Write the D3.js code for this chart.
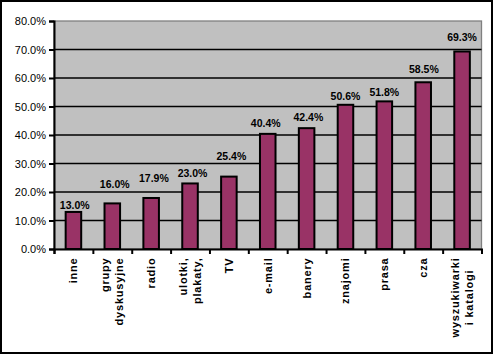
<!DOCTYPE html>
<html><head><meta charset="utf-8">
<script src="https://cdn.jsdelivr.net/npm/d3@7"></script>
<style>body{margin:0;background:#fff}svg{display:block}</style>
</head><body>
<svg id="c" width="494" height="355"></svg>
<script>
const categories = [["inne"],["grupy","dyskusyjne"],["radio"],["ulotki,","plakaty,"],["TV"],["e-mail"],["banery"],["znajomi"],["prasa"],["cza"],["wyszukiwarki","i katalogi"]];
const values = [13.0,16.0,17.9,23.0,25.4,40.4,42.4,50.6,51.8,58.5,69.3];
const yTicks = [0,10,20,30,40,50,60,70,80];

// layout tweaks (hand-placed label positions in the original)
const labelGap = [3,15,16,6,17,7,7,5,5,9,10];
const labelDx = [1.3,2.4,2.7,2.5,2.5,-2,1.8,0,0,0.7,0];
const labelAlign = ["end","end","end","end","end","end","end","end","end","end","middle"];

const svg = d3.select("#c");
const L = 54, R = 481.5, T = 21, B = 249;
svg.append("rect").attr("x",1).attr("y",1).attr("width",491).attr("height",352)
  .attr("fill","#fff").attr("stroke","#000").attr("stroke-width",2);

const x = d3.scaleBand().domain(d3.range(values.length)).range([L,R]).padding(0);
const y = d3.scaleLinear().domain([0,80]).range([B,T]);

svg.append("rect").attr("x",L).attr("y",T).attr("width",R-L).attr("height",B-T)
  .attr("fill","#c0c0c0").attr("stroke","#808080").attr("stroke-width",1.3);

// gridlines
svg.append("g").selectAll("line").data(yTicks.filter(d=>d>0 && d<80)).join("line")
  .attr("x1",L).attr("x2",R).attr("y1",d=>y(d)).attr("y2",d=>y(d))
  .attr("stroke","#000").attr("stroke-width",1.4);

// bars
const bw = x.step()*0.4;
svg.append("g").selectAll("rect").data(values).join("rect")
  .attr("x",(d,i)=>x(i)+x.step()/2-bw/2).attr("width",bw)
  .attr("y",d=>y(d)).attr("height",d=>B-y(d))
  .attr("fill","#993366").attr("stroke","#000").attr("stroke-width",2);

// value labels
svg.append("g").selectAll("text").data(values).join("text")
  .attr("x",(d,i)=>x(i)+x.step()/2+labelDx[i]).attr("y",(d,i)=>y(d)-labelGap[i])
  .attr("text-anchor","middle").attr("font-family","Liberation Sans, Arial, sans-serif")
  .attr("font-size","10.5px").attr("font-weight","bold").attr("fill","#000")
  .text(d=>d.toFixed(1)+"%");

// y axis
const yAxis = d3.axisLeft(y).tickValues(yTicks).tickSize(5).tickPadding(3).tickFormat(d=>d.toFixed(1)+"%");
const ga = svg.append("g").attr("transform",`translate(${L},0)`).call(yAxis);
ga.select(".domain").attr("stroke","#000").attr("stroke-width",2);
ga.selectAll(".tick line").attr("stroke","#000").attr("stroke-width",2);
ga.selectAll(".tick text").attr("font-family","Liberation Sans, Arial, sans-serif").attr("font-size","11px").attr("fill","#000");

// x axis
const xAxis = d3.axisBottom(d3.scaleLinear().domain([0,values.length]).range([L,R]))
  .tickValues(d3.range(values.length+1)).tickSize(5).tickFormat("");
const gx = svg.append("g").attr("transform",`translate(0,${B})`).call(xAxis);
gx.select(".domain").attr("stroke","#000").attr("stroke-width",2);
gx.selectAll(".tick line").attr("stroke","#000").attr("stroke-width",2);

// category labels
const lg = svg.append("g");
categories.forEach((lines,i)=>{
  const cx = x(i)+x.step()/2;
  const n = lines.length;
  const t = lg.append("g").attr("transform",`translate(${cx},257.5) rotate(-90)`);
  const texts = lines.map((s,j)=>t.append("text")
    .attr("x",0).attr("y",(j-(n-1)/2)*14).attr("dy","0.36em")
    .attr("font-family","Liberation Sans, Arial, sans-serif").attr("font-size","11px")
    .attr("font-weight","bold").attr("letter-spacing","0.8px").attr("fill","#000").text(s));
  const maxLen = d3.max(texts, tt=>tt.node().getComputedTextLength());
  texts.forEach(tt=>{
    if(labelAlign[i]==="end"){ tt.attr("text-anchor","end"); }
    else { tt.attr("text-anchor","middle").attr("x",-maxLen/2); }
  });
});
</script>
</body></html>
